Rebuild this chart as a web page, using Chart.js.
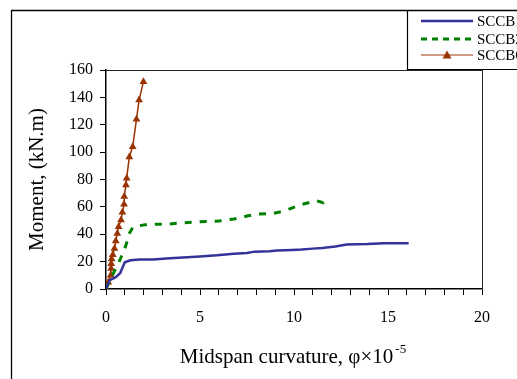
<!DOCTYPE html>
<html>
<head>
<meta charset="utf-8">
<script src="https://cdn.jsdelivr.net/npm/chart.js@4"></script>
<style>
  html, body { margin: 0; padding: 0; background: #fff; }
  #wrap { width: 517px; height: 379px; position: relative; }
</style>
</head>
<body>
<div id="wrap"><canvas id="chart" width="517" height="379"></canvas></div>
<script>
// Moment vs midspan curvature for three beams

const seriesNames = ['SCCB1', 'SCCB2', 'SCCB6'];

const sccb1X = [0, 0.2, 0.5, 0.75, 1.0, 1.3, 1.8, 2.5, 3.2, 4.1, 5.0, 5.9, 6.8, 7.5, 7.9, 8.7, 9.1, 9.9, 10.4, 11.0, 11.5, 12.2, 12.8, 13.9, 14.8, 16.1];
const sccb1Y = [0, 6.5, 8.5, 11.5, 19.5, 21, 21.5, 21.5, 22.3, 23, 23.8, 24.6, 25.8, 26.3, 27.3, 27.5, 28.2, 28.5, 28.8, 29.5, 30, 31, 32.5, 32.8, 33.5, 33.5];

const sccb2X = [0, 0.48, 0.74, 1.0, 1.15, 1.19, 1.45, 2.25, 3.2, 4.1, 5.0, 5.9, 6.8, 7.5, 8.0, 8.9, 9.5, 10.3, 11.2, 11.55, 11.7];
const sccb2Y = [0, 13.9, 21.2, 29.7, 35.8, 39.4, 45.5, 47.3, 47.3, 48.4, 49.2, 49.5, 51.1, 53.3, 54.6, 55.3, 57, 61.4, 64.5, 63, 66.2];

const sccb6X = [0, 0.12, 0.25, 0.27, 0.28, 0.3, 0.36, 0.45, 0.52, 0.6, 0.67, 0.8, 0.87, 0.96, 0.97, 1.06, 1.1, 1.24, 1.42, 1.62, 1.76, 1.99];
const sccb6Y = [0, 5, 10, 15, 18.5, 22, 25, 29.5, 35, 40.5, 45.5, 50.4, 56, 62, 67.5, 76, 81, 96.5, 104, 124, 138, 151.5];

const xTicks = [0, 5, 10, 15, 20];
const yTicks = [0, 20, 40, 60, 80, 100, 120, 140, 160];

const serif = "'Liberation Serif', 'Times New Roman', serif";

function toPoints(xs, ys) {
  return xs.map((x, i) => ({ x, y: ys[i] }));
}

// outer frame, plot box, legend box and x title
const framePlugin = {
  id: 'frame',
  afterDraw(chart) {
    const ctx = chart.ctx;
    const area = chart.chartArea;
    ctx.save();
    ctx.strokeStyle = '#000';
    ctx.lineWidth = 1.3;
    ctx.beginPath();
    ctx.moveTo(11.5, 379);
    ctx.lineTo(11.5, 10.5);
    ctx.lineTo(517, 10.5);
    ctx.stroke();

    ctx.lineWidth = 1;
    ctx.strokeStyle = '#222';
    ctx.beginPath();
    ctx.moveTo(area.left, area.top + 0.5);
    ctx.lineTo(area.right + 0.5, area.top + 0.5);
    ctx.lineTo(area.right + 0.5, area.bottom);
    ctx.stroke();

    // legend box
    ctx.strokeStyle = '#000';
    ctx.lineWidth = 1.2;
    ctx.beginPath();
    ctx.moveTo(517, 69.5);
    ctx.lineTo(407.5, 69.5);
    ctx.lineTo(407.5, 10.5);
    ctx.stroke();

    const rows = [21, 39, 55];
    chart.data.datasets.forEach((ds, i) => {
      const y = rows[i];
      ctx.save();
      ctx.strokeStyle = i === 2 ? '#c0795a' : ds.borderColor;
      ctx.lineWidth = ds.borderWidth;
      ctx.setLineDash(i === 1 ? [6, 5] : []);
      ctx.beginPath();
      ctx.moveTo(421, y);
      ctx.lineTo(473, y);
      ctx.stroke();
      ctx.restore();
      if (ds.pointStyle === 'triangle') {
        ctx.fillStyle = ds.pointBackgroundColor;
        ctx.beginPath();
        ctx.moveTo(447, y - 4.5);
        ctx.lineTo(451.5, y + 3.5);
        ctx.lineTo(442.5, y + 3.5);
        ctx.closePath();
        ctx.fill();
      }
      ctx.fillStyle = '#000';
      ctx.font = '15px ' + serif;
      ctx.textBaseline = 'middle';
      ctx.textAlign = 'left';
      ctx.fillText(ds.label, 477, y + 1);
    });

    // x axis title with superscript
    const main = 'Midspan curvature, \u03c6\u00d710';
    const sup = '-5';
    ctx.font = '21px ' + serif;
    const w1 = ctx.measureText(main).width;
    ctx.font = '13px ' + serif;
    const w2 = ctx.measureText(sup).width;
    const startX = 293 - (w1 + w2 + 2) / 2;
    ctx.fillStyle = '#000';
    ctx.textAlign = 'left';
    ctx.textBaseline = 'alphabetic';
    ctx.font = '21px ' + serif;
    ctx.fillText(main, startX, 363);
    ctx.font = '13px ' + serif;
    ctx.fillText(sup, startX + w1 + 2, 353);
    ctx.restore();
  }
};

new Chart(document.getElementById('chart'), {
  type: 'scatter',
  data: {
    datasets: [
      {
        label: seriesNames[0],
        data: toPoints(sccb1X, sccb1Y),
        showLine: true,
        borderColor: '#333399',
        borderWidth: 2.5,
        pointRadius: 0,
        tension: 0
      },
      {
        label: seriesNames[1],
        data: toPoints(sccb2X, sccb2Y),
        showLine: true,
        borderColor: '#008000',
        borderWidth: 3,
        borderDash: [7, 8],
        pointRadius: 0,
        tension: 0
      },
      {
        label: seriesNames[2],
        data: toPoints(sccb6X, sccb6Y),
        showLine: true,
        borderColor: '#993300',
        borderWidth: 1.5,
        pointStyle: 'triangle',
        pointRadius: 4.5,
        pointBackgroundColor: '#993300',
        pointBorderColor: '#993300',
        pointBorderWidth: 0,
        tension: 0
      }
    ]
  },
  options: {
    responsive: false,
    animation: false,
    layout: { padding: { left: 0, top: 70, right: 35, bottom: 0 } },
    plugins: {
      legend: { display: false },
      tooltip: { enabled: false }
    },
    scales: {
      x: {
        type: 'linear',
        min: xTicks[0],
        max: xTicks[xTicks.length - 1],
        afterFit(scale) { scale.height = 90; },
        ticks: {
          stepSize: 1,
          autoSkip: false,
          maxRotation: 0,
          padding: 13,
          color: '#000',
          font: { family: serif, size: 16 },
          callback: v => (xTicks.includes(v) ? v : '')
        },
        grid: { drawOnChartArea: false, drawTicks: true, tickLength: 6, tickColor: '#000', tickWidth: 1 },
        border: { color: '#000', width: 1.5 }
      },
      y: {
        type: 'linear',
        min: yTicks[0],
        max: yTicks[yTicks.length - 1],
        afterFit(scale) { scale.width = 106; },
        ticks: {
          stepSize: 20,
          padding: 7,
          color: '#000',
          font: { family: serif, size: 16 }
        },
        grid: { drawOnChartArea: false, drawTicks: true, tickLength: 6, tickColor: '#000', tickWidth: 1 },
        border: { color: '#000', width: 1.5 },
        title: {
          display: true,
          text: 'Moment, (kN.m)',
          color: '#000',
          font: { family: serif, size: 21 },
          padding: { top: 25, bottom: 0 }
        }
      }
    }
  },
  plugins: [framePlugin]
});
</script>
</body>
</html>
